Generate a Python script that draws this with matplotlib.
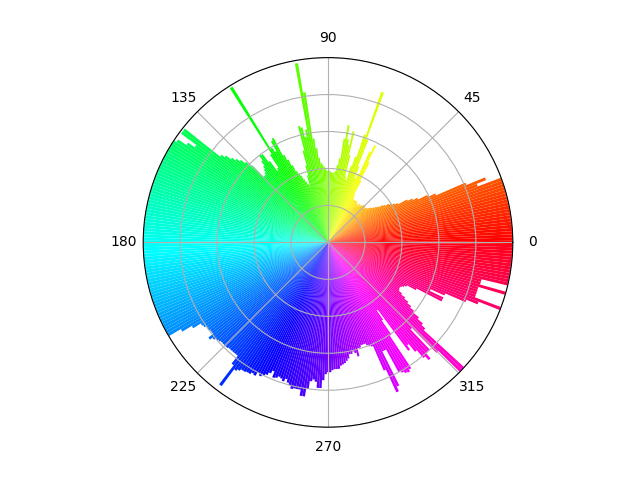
import numpy as np
import matplotlib
matplotlib.use("Agg")
import matplotlib.pyplot as plt

# one value per degree, rings every 37, the plot is cut at 185
values_000 = [190,190,190,190,190,190,190,190,190,190, 190,190,190,190,190,190,190,190,190,190]
values_020 = [190,160,170,150,118,110,100,95,90,80, 77,74,72,68,66,62,60,58,56,55]
values_040 = [53,52,51,50,52,50,52,50,50,48, 50,49,47,48,50,50,50,50,50,50]
values_060 = [51,55,70,90,108,100,75,70,82,110, 160,114,90,80,65,68,90,114,100,105]
values_080 = [119,105,85,78,72,70,70,70,71,72, 72,72,74,76,78,80,85,95,105,152]
values_100 = [182,115,108,118,120,95,80,70,60,62, 65,68,72,75,78,85,92,98,118,116]
values_120 = [105,110,183,105,90,88,100,110,111,105, 100,97,94,92,92,108,115,120,124,128]
values_140 = [134,138,183,183,164,172,182,186,190,190, 190,190,190,190,190,190,190,190,190,190]
values_160 = [190,190,190,190,190,190,190,190,190,190, 190,190,190,190,190,190,190,190,190,190]
values_180 = [190,190,190,190,190,190,190,190,190,190, 190,190,190,190,190,190,190,190,190,190]
values_200 = [190,190,190,190,190,190,190,190,190,190, 190,171,160,151,150,148,148,147,147,153]
values_220 = [150,148,147,146,146,146,146,145,145,145, 145,145,155,179,158,156,154,154,153,153]
values_240 = [151,152,148,150,148,146,143,140,146,145, 143,144,146,143,146,148,151,150,150,150]
values_260 = [156,156,148,140,138,140,146,146,138,132, 130,130,128,127,127,127,124,123,122,120]
values_280 = [118,114,114,112,114,118,110,110,108,108, 108,110,112,113,140,165,160,122,122,148]
values_300 = [150,152,153,151,112,95,84,135,130,140, 150,155,148,148,120,155,186,186,130,125]
values_320 = [118,110,105,100,95,90,86,85,85,86, 88,90,100,128,128,113,128,150,162,190]
values_340 = [157,157,157,157,190,158,158,190,190,190, 190,190,190,190,190,190,190,190,190,190]

values = (values_000 + values_020 + values_040 + values_060 + values_080 + values_100
          + values_120 + values_140 + values_160 + values_180 + values_200 + values_220
          + values_240 + values_260 + values_280 + values_300 + values_320 + values_340)
angles = np.arange(len(values))
colors = plt.cm.hsv(angles / 360)

fig = plt.figure()
ax = fig.add_subplot(projection="polar")
ax.bar(np.deg2rad(angles), values, width=np.deg2rad(1.0), color=colors)
ax.set_rlim(0, 185)
ax.set_rticks([37, 74, 111, 148, 185])
ax.set_yticklabels([])
ax.set_thetagrids(range(0, 360, 45), ["0", "45", "90", "135", "180", "225", "270", "315"])
fig.savefig("out.png", dpi=100)
